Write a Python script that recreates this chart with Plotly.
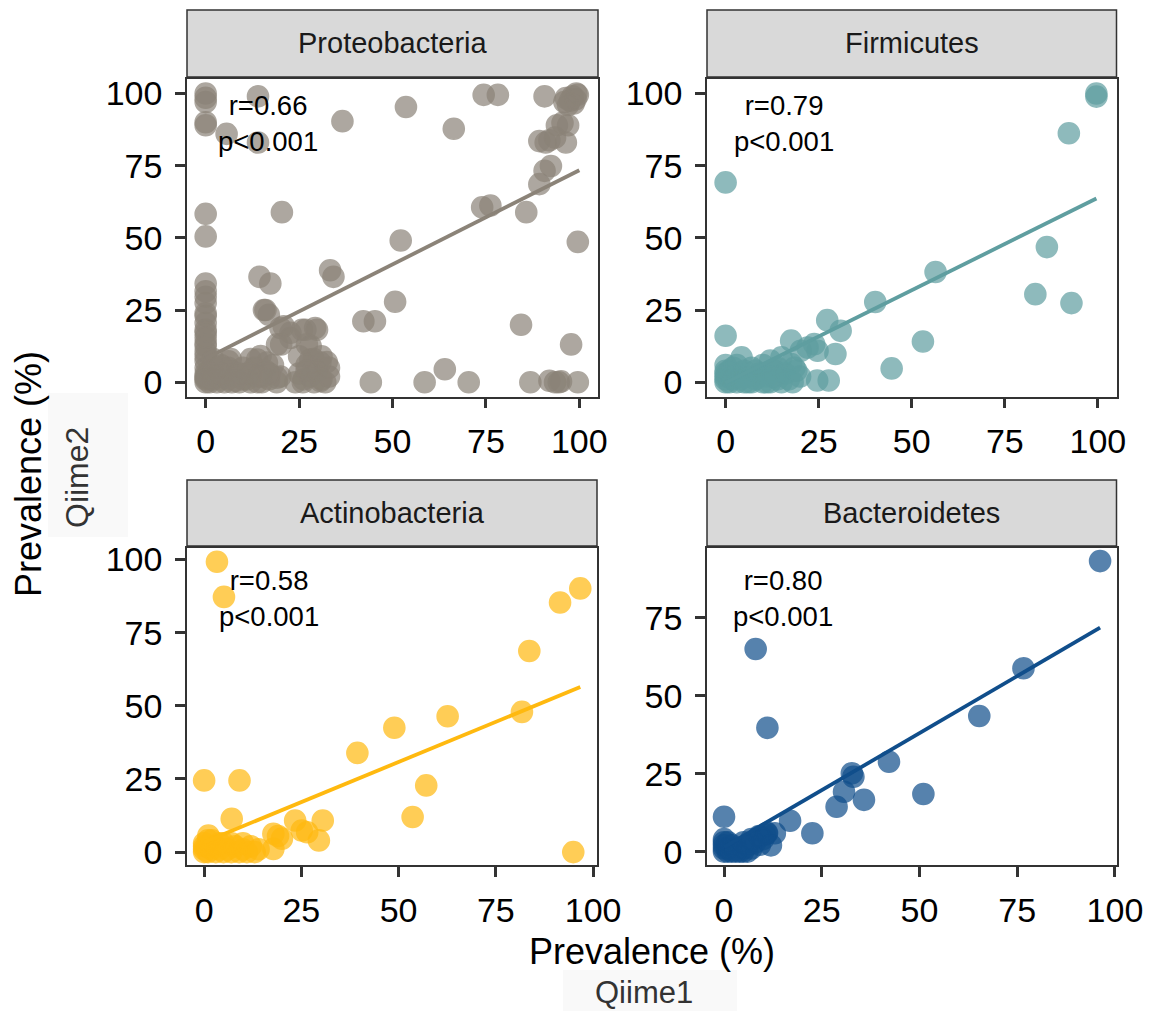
import numpy as np
import plotly.graph_objects as go

W, H = 1149, 1011

# ---------------- data ----------------
panel_names = ["Proteobacteria", "Firmicutes", "Actinobacteria", "Bacteroidetes"]
panel_colors = ["#8B8378", "#5F9EA0", "#FFB90F", "#104E8B"]
r_labels = ["r=0.66", "r=0.79", "r=0.58", "r=0.80"]
p_label = "p<0.001"

proteo_x = [0, 0, 0, 0, 0, 14, 14, 5.6, 36.6, 53.6, 66.4, 74.4, 78.2, 90.7,
            96.4, 97.5, 98.2, 99.2, 99.6, 98.5, 97, 99, 96,
            95.5, 94, 97,
            89.3, 91, 92, 96.4, 93.5,
            92.4, 90.7, 89.3,
            74, 76.2, 85.8, 99.6, 52.2, 0, 0, 20.4,
            33.3, 34.2, 14.4, 17.3, 50.7,
            0, 0, 0, 0, 0, 0, 0, 0, 0, 0,
            15.6, 16.9, 16, 42.2, 45.3, 84.4, 97.8,
            20.9, 20, 22.7, 22.7, 25.8, 26.7, 29.3, 29.8,
            20.2, 19.1, 27.1, 28.1,
            14.7, 6.1, 6.7, 12, 13.8, 16.4, 28, 28.9, 30.7, 32.4, 29.8,
            19.1, 26.2, 30.7, 13.8, 11.1,
            64,
            44.2, 58.6, 70.4, 86.9, 92, 93.5, 94.5, 95.1, 99.6,
            0, 0, 0, 0, 0, 0, 0, 0, 1, 1, 2, 2, 3, 3, 4, 5, 5, 6, 7, 7, 8, 9,
            10, 11, 12, 13, 14, 15, 16, 17, 18, 19, 20, 24, 25, 26, 27, 28, 29,
            30, 31, 32, 33, 1, 2, 3, 4, 6, 8, 9, 10, 12, 15, 17,
            0, 0, 0, 2, 4, 25, 27, 31, 33]
proteo_y = [100, 98.5, 97, 90, 89, 99, 83, 86, 90.4, 95.3, 87.8, 99.5, 99.5, 99,
            98.4, 97.5, 99, 100, 99.5, 96.5, 96, 98, 97,
            89.8, 89, 89,
            83.5, 83, 83.8, 83, 84.7,
            74.9, 73.2, 68.6,
            60.6, 61.2, 58.9, 48.6, 49.1, 58.3, 50.5, 58.9,
            38.8, 36.5, 36.5, 34.2, 27.9,
            34.2, 29.6, 27.4, 23.9, 22.9, 20.5, 18.2, 17.1, 13.6, 12.5,
            25, 23.4, 25, 21.1, 21.1, 19.9, 13.1,
            19.4, 18.8, 17.1, 15.3, 18.2, 18.2, 18.8, 18.2,
            13.1, 13.1, 13.1, 12.5,
            9.1, 7.3, 8, 8, 7.9, 6.8, 7.9, 8, 6.8, 7, 3.9,
            1.6, 1.0, 0.4, 0, 1,
            4.5,
            0, 0, 0, 0, 0.5, 0, 0, 0.3, 0,
            0, 1, 2, 3, 5, 7.4, 9, 1.6, 0, 4, 1, 6, 0, 2, 1, 0, 3, 1, 0, 4, 2, 0,
            1, 3, 0, 5, 2, 0, 4, 1, 6, 0, 2, 0, 3, 0, 6, 2, 0,
            4, 1, 0, 2, 1, 3, 5, 3, 5, 0.5, 3, 5, 3, 2, 3,
            10.5, 15.5, 31.5, 8, 6, 9, 4, 9, 5]

firm_x = [99.6, 99.6, 92.2, 0, 86.3, 83.2, 92.9, 56.4, 40.2, 27.3, 30.9, 53, 29.5,
          44.6, 0, 24.6, 27.7, 17.6, 23.8, 20.2, 24.7, 22, 15, 17.6, 12, 4.3,
          18.5, 14,
          0, 0, 0, 0, 0, 0, 1, 1, 2, 2, 3, 3, 4, 5, 5, 6, 7, 7, 8, 9, 10, 10,
          11, 12, 13, 14, 15, 16, 17, 18, 19, 20, 1, 3, 6, 8, 11, 13]
firm_y = [100, 98.9, 86.2, 69.2, 46.8, 30.5, 27.4, 38.2, 27.8, 21.5, 17.8, 14.1, 9.8,
          4.8, 16.1, 0.6, 0.6, 14.4, 13.2, 10.9, 10.9, 12, 8.6, 6.3, 7.5, 8.6,
          5, 5,
          0, 1, 2, 3, 4, 6, 0, 2, 1, 5, 0, 3, 1, 0, 4, 2, 0, 5, 1, 3, 0, 6,
          2, 0, 4, 1, 0, 3, 1, 0, 4, 2, 4, 6, 0, 4, 0, 2]

actino_x = [3.3, 5.1, 96.7, 91.5, 83.6, 81.7, 62.6, 48.9, 39.4, 57.1, 53.6, 94.9,
            0, 9.1, 7.1, 23.4, 30.5, 25.1, 26.5, 29.5, 17.8, 20, 17.8, 1.1, 19,
            0, 0, 0, 0, 1, 1, 2, 2, 3, 3, 4, 5, 5, 6, 7, 8, 9, 10, 10, 11, 12,
            13, 14, 1, 4, 7]
actino_y = [99.2, 87.2, 90.1, 85.3, 68.7, 47.9, 46.4, 42.5, 33.9, 22.8, 12, 0,
            24.5, 24.5, 11.4, 10.8, 10.8, 7.4, 6.8, 4, 6.3, 4.6, 1.1, 5.7, 5.5,
            0, 1, 2, 3, 0, 2, 1, 4, 0, 2, 1, 0, 3, 1, 0, 2, 0, 1, 3, 0, 2,
            0, 1, 4, 3, 3]

bact_x = [96.2, 8.1, 11.1, 76.6, 65.3, 42.2, 32.7, 33.1, 30.7, 35.8, 28.8, 51,
          16.9, 22.6, 0, 13, 10.5, 9.2, 9.2, 10.9, 4.9,
          0, 0, 0, 0, 0, 1, 1, 2, 2, 3, 4, 5, 6, 6, 7, 8, 9, 10, 11, 12, 1, 3, 5, 7]
bact_y = [93.2, 65, 39.7, 58.8, 43.5, 28.8, 25.1, 24, 19.2, 16.6, 14.4, 18.5,
          9.9, 5.9, 11.2, 5.9, 5.4, 2.2, 4.8, 5.9, 0,
          0, 1, 2, 3, 4, 0, 1, 0, 2, 1, 0, 1, 0, 2, 1, 3, 5, 4, 6, 2, 3, 0, 3, 4]

# linear-fit lines: intercept, slope, x-span
fit_intercept = [8.2, -0.2, 3.4, 1.4]
fit_slope = [0.652, 0.641, 0.548, 0.732]
fit_xmin = [0, 0, 0, 0]
fit_xmax = [100, 99.6, 96.7, 96.2]

y_tick_vals = [[0, 25, 50, 75, 100], [0, 25, 50, 75, 100],
               [0, 25, 50, 75, 100], [0, 25, 50, 75]]
x_tick_vals = [0, 25, 50, 75, 100]

xs = [proteo_x, firm_x, actino_x, bact_x]
ys = [proteo_y, firm_y, actino_y, bact_y]

# ---------------- layout geometry (pixels) ----------------
def px(xp):
    return xp / W

def py(yp):
    return 1 - yp / H

col_x = [(187, 598), (707, 1116.5), (187, 597), (707, 1116.5)]
row_y = [(79, 396.7), (79, 396.7), (548.3, 865), (548.3, 865)]
strip_y = [(10, 77), (10, 77), (480, 546), (480, 546)]
x_ranges = [[-5, 105], [-5, 105], [-4.4, 101], [-4.35, 100.4]]
y_ranges = [[-5, 105], [-5, 105], [-4.4, 103.8], [-4.3, 97.3]]
label_pos = [(16.8, 89.7), (15.7, 89.5), (16.6, 86.8), (15.1, 81.3)]

FONT = "Liberation Sans, Arial, Helvetica, sans-serif"

fig = go.Figure()
shapes = []
annotations = []
layout_axes = {}

for i in range(4):
    ax = "" if i == 0 else str(i + 1)
    xref, yref = "x" + ax, "y" + ax
    col = panel_colors[i]

    fx = np.array([fit_xmin[i], fit_xmax[i]])
    fy = fit_intercept[i] + fit_slope[i] * fx
    fig.add_trace(go.Scatter(
        x=xs[i], y=ys[i], mode="markers", xaxis=xref, yaxis=yref,
        marker=dict(size=21, color=col, opacity=0.7,
                    line=dict(color=col, width=1.6)),
        showlegend=False, hoverinfo="skip"))
    fig.add_trace(go.Scatter(
        x=fx, y=fy, mode="lines", xaxis=xref, yaxis=yref,
        line=dict(color=col, width=3.8), showlegend=False, hoverinfo="skip"))

    common = dict(showgrid=False, zeroline=False, showline=True, mirror=True,
                  automargin=False,
                  linecolor="#333333", linewidth=1.5, ticks="outside",
                  ticklen=10, tickwidth=2.5, tickcolor="#333333",
                  tickfont=dict(family=FONT, size=34, color="#000000"))
    layout_axes["xaxis" + ax] = dict(
        domain=[px(col_x[i][0]), px(col_x[i][1])], range=x_ranges[i],
        anchor=yref, tickvals=x_tick_vals, ticklabelstandoff=4, **common)
    layout_axes["yaxis" + ax] = dict(
        domain=[py(row_y[i][1]), py(row_y[i][0])], range=y_ranges[i],
        anchor=xref, tickvals=y_tick_vals[i], ticklabelstandoff=6, **common)

    # strip
    shapes.append(dict(type="rect", xref="paper", yref="paper",
                       x0=px(col_x[i][0]), x1=px(col_x[i][1]),
                       y0=py(strip_y[i][1]), y1=py(strip_y[i][0]),
                       fillcolor="#D9D9D9", line=dict(color="#333333", width=1.5)))
    annotations.append(dict(
        xref="paper", yref="paper",
        x=px((col_x[i][0] + col_x[i][1]) / 2),
        y=py((strip_y[i][0] + strip_y[i][1]) / 2),
        text=panel_names[i], showarrow=False, xanchor="center", yanchor="middle",
        font=dict(family=FONT, size=29, color="#1A1A1A")))
    # r / p label
    annotations.append(dict(
        xref=xref, yref=yref, x=label_pos[i][0], y=label_pos[i][1],
        text=r_labels[i] + "<br>" + p_label.replace("<", "&lt;"),
        showarrow=False, xanchor="center", yanchor="middle", align="center",
        font=dict(family=FONT, size=27.5, color="#000000")))

# light boxes behind the sub-titles
shapes.append(dict(type="rect", xref="paper", yref="paper", layer="below",
                   x0=px(48), x1=px(128), y0=py(537), y1=py(393),
                   fillcolor="#F9F9F9", line=dict(width=0)))
shapes.append(dict(type="rect", xref="paper", yref="paper", layer="below",
                   x0=px(563), x1=px(737), y0=py(1011), y1=py(970),
                   fillcolor="#F9F9F9", line=dict(width=0)))

annotations += [
    dict(xref="paper", yref="paper", x=px(28), y=py(474), text="Prevalence (%)",
         textangle=-90, showarrow=False, xanchor="center", yanchor="middle",
         font=dict(family=FONT, size=36, color="#000000")),
    dict(xref="paper", yref="paper", x=px(77), y=py(478), text="Qiime2",
         textangle=-90, showarrow=False, xanchor="center", yanchor="middle",
         font=dict(family=FONT, size=32, color="#333333")),
    dict(xref="paper", yref="paper", x=px(652), y=py(951), text="Prevalence (%)",
         showarrow=False, xanchor="center", yanchor="middle",
         font=dict(family=FONT, size=36, color="#000000")),
    dict(xref="paper", yref="paper", x=px(644), y=py(992), text="Qiime1",
         showarrow=False, xanchor="center", yanchor="middle",
         font=dict(family=FONT, size=31, color="#333333")),
]

fig.update_layout(width=W, height=H, margin=dict(l=0, r=0, t=0, b=0, pad=0),
                  paper_bgcolor="white", plot_bgcolor="white",
                  shapes=shapes, annotations=annotations, **layout_axes)

# remove the default page margin so the figure fills the window exactly
fig.write_html("out.html",
               config={"displayModeBar": False},
               post_script="document.body.style.margin='0';"
                           "document.body.style.overflow='hidden';")
